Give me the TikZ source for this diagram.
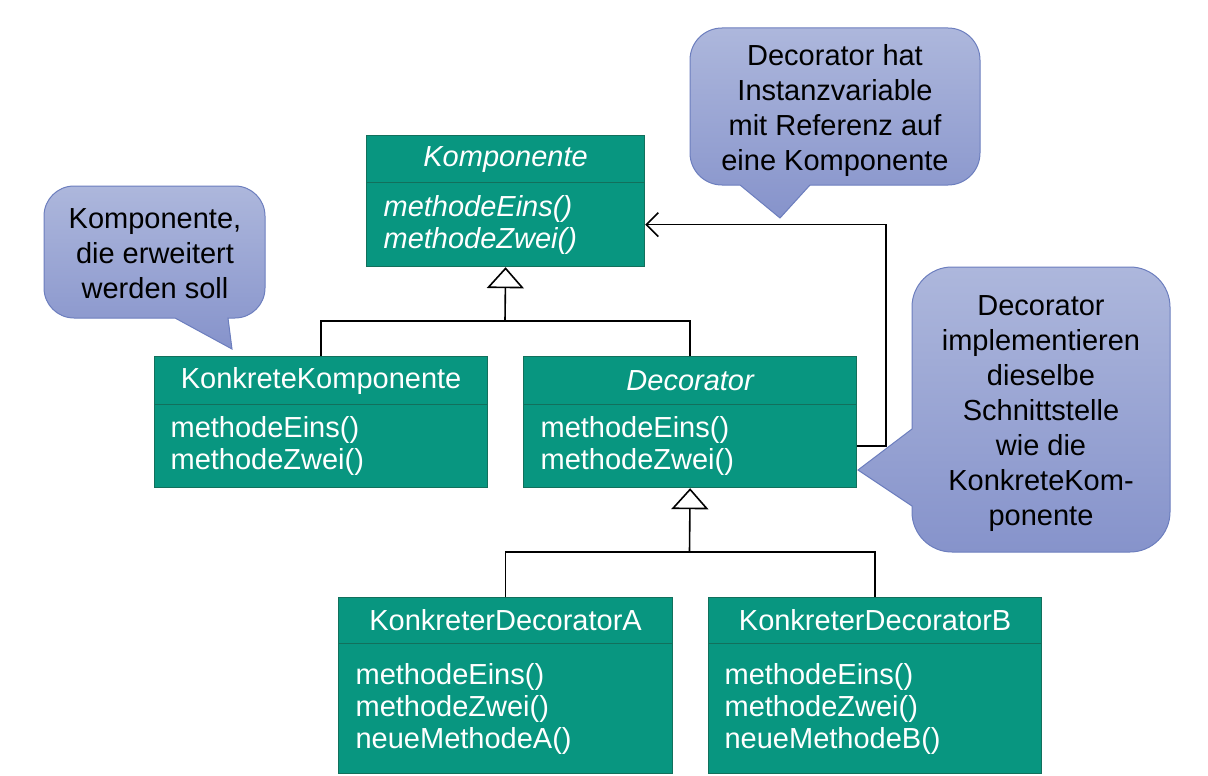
\documentclass[tikz,border=0pt]{standalone}
\usepackage{fontspec}
\setmainfont{Liberation Sans}
\usetikzlibrary{arrows.meta}
\definecolor{umlgreen}{RGB}{8,150,128}
\definecolor{umledge}{RGB}{18,112,92}
\definecolor{calltop}{RGB}{173,183,220}
\definecolor{callbot}{RGB}{134,147,203}
\definecolor{calledge}{RGB}{108,126,190}
\begin{document}
\begin{tikzpicture}[x=1pt,y=-1pt,
  boxfont/.style={font=\fontsize{29}{32}\selectfont},
  hdr/.style={boxfont,draw=umledge,line width=1.2pt,fill=umlgreen,text=white,
    inner sep=0pt,anchor=north west,align=center},
  bdy/.style={boxfont,draw=umledge,line width=1.2pt,fill=umlgreen,text=white,
    inner ysep=0pt,anchor=north west,align=left},
  gen/.style={draw=black,line width=1.6pt},
  assoc/.style={draw=black,line width=1.6pt,-{Straight Barb[length=12pt,width=24pt,line width=1.6pt]}},
  gentip/.style={-{Triangle[open,length=21pt,width=37pt,line width=1.6pt]}},
  callout/.style={top color=calltop,bottom color=callbot,draw=calledge,line width=1pt},
  calltext/.style={font=\fontsize{29}{35}\selectfont,align=center,text=black,inner sep=0pt}
]
\useasboundingbox (0,0) rectangle (1208,776);

% callouts
\shade[callout] (810,185) [rounded corners=32pt] -- (980,185) -- (980,28) -- (690,28) -- (690,185) [sharp corners] -- (740,185) -- (780,218) -- cycle;
\shade[callout] (228,318) [rounded corners=30pt] -- (265,318) -- (265,186) -- (44,186) -- (44,318) [sharp corners] -- (175,318) -- (232,349) -- cycle;
\shade[callout] (912,429) [rounded corners=40pt] -- (912,267) -- (1170,267) -- (1170,552) -- (912,552) [sharp corners] -- (912,506) -- (858,470) -- cycle;

\node[calltext] (t1) at (835,111) {Decorator hat\\Instanzvariable\\mit Referenz auf\\eine Komponente};
\node[calltext] (t2) at (155,254) {Komponente,\\die erweitert\\werden soll};
\node[calltext] (t3) at (1041,414) {Decorator\\implementieren\\dieselbe\\Schnittstelle\\wie die\\KonkreteKom-\\ponente};

% classes
\node[hdr,minimum width=278pt,minimum height=47pt] (komph) at (366,135) {\itshape Komponente};
\node[bdy,inner xsep=17pt,text width=244pt,minimum height=84pt] (kompb) at (366,182) {\itshape methodeEins()\\\itshape methodeZwei()};

\node[hdr,minimum width=333pt,minimum height=48pt] (kkh) at (154,356) {KonkreteKomponente};
\node[bdy,inner xsep=16pt,text width=301pt,minimum height=83pt] (kkb) at (154,404) {methodeEins()\\methodeZwei()};

\node[hdr,minimum width=333pt,minimum height=48pt] (dech) at (523,356) {\itshape Decorator};
\node[bdy,inner xsep=17pt,text width=299pt,minimum height=83pt] (decb) at (523,404) {methodeEins()\\methodeZwei()};

\node[hdr,minimum width=334pt,minimum height=46pt] (kdah) at (338,597) {KonkreterDecoratorA};
\node[bdy,inner xsep=17pt,text width=300pt,minimum height=130pt] (kdab) at (338,643) {methodeEins()\\methodeZwei()\\neueMethodeA()};

\node[hdr,minimum width=333pt,minimum height=46pt] (kdbh) at (708,597) {KonkreterDecoratorB};
\node[bdy,inner xsep=16pt,text width=301pt,minimum height=130pt] (kdbb) at (708,643) {methodeEins()\\methodeZwei()\\neueMethodeB()};

% generalizations
\coordinate (j1) at (505,321);
\draw[gen] (kkh.north) |- (j1);
\draw[gen] (dech.north) |- (j1);
\draw[gen,gentip] (j1) -- (kompb.south);

\coordinate (j2) at (689.5,552);
\draw[gen] (kdah.north) |- (j2);
\draw[gen] (kdbh.north) |- (j2);
\draw[gen,gentip] (j2) -- (decb.south);

% association
\draw[assoc] (decb.east) -- ++(29,0) |- (kompb.east);
\end{tikzpicture}
\end{document}
